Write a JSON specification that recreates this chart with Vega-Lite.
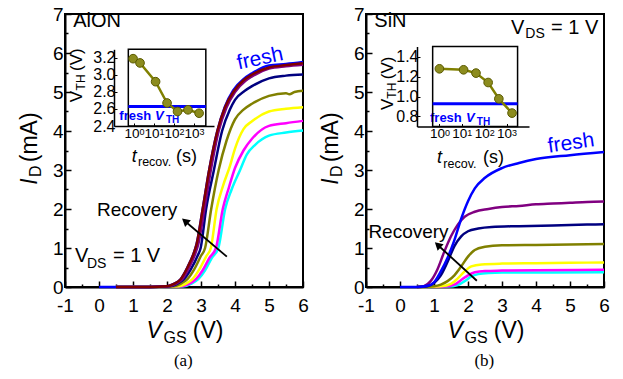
{
"$schema":"https://vega.github.io/schema/vega-lite/v6.json",
"background":"white",
"padding":{"left":19,"top":5,"right":0,"bottom":0},
"spacing":63,
"bounds":"flush",
"datasets":{
"curvesA":[
{"curve":"cyan","vgs":0.5,"id":0},{"curve":"cyan","vgs":1.5,"id":0},{"curve":"cyan","vgs":2.5,"id":0.02},{"curve":"cyan","vgs":2.7,"id":0.08},{"curve":"cyan","vgs":2.92,"id":0.2},{"curve":"cyan","vgs":3.12,"id":0.43},{"curve":"cyan","vgs":3.32,"id":0.75},{"curve":"cyan","vgs":3.51,"id":1.0},{"curve":"cyan","vgs":3.71,"id":2.0},{"curve":"cyan","vgs":3.9,"id":2.5},{"curve":"cyan","vgs":4.15,"id":3.0},{"curve":"cyan","vgs":4.35,"id":3.4},{"curve":"cyan","vgs":4.6,"id":3.65},{"curve":"cyan","vgs":5.0,"id":3.88},{"curve":"cyan","vgs":5.5,"id":3.96},{"curve":"cyan","vgs":6.0,"id":4.01},
{"curve":"magenta","vgs":0.5,"id":0},{"curve":"magenta","vgs":1.5,"id":0},{"curve":"magenta","vgs":2.45,"id":0.02},{"curve":"magenta","vgs":2.65,"id":0.08},{"curve":"magenta","vgs":2.85,"id":0.2},{"curve":"magenta","vgs":3.05,"id":0.43},{"curve":"magenta","vgs":3.25,"id":0.75},{"curve":"magenta","vgs":3.44,"id":1.0},{"curve":"magenta","vgs":3.64,"id":2.0},{"curve":"magenta","vgs":3.82,"id":2.55},{"curve":"magenta","vgs":4.0,"id":3.05},{"curve":"magenta","vgs":4.25,"id":3.5},{"curve":"magenta","vgs":4.5,"id":3.8},{"curve":"magenta","vgs":5.0,"id":4.13},{"curve":"magenta","vgs":5.5,"id":4.2},{"curve":"magenta","vgs":6.0,"id":4.26},
{"curve":"yellow","vgs":0.5,"id":0},{"curve":"yellow","vgs":1.5,"id":0},{"curve":"yellow","vgs":2.35,"id":0.02},{"curve":"yellow","vgs":2.55,"id":0.08},{"curve":"yellow","vgs":2.75,"id":0.2},{"curve":"yellow","vgs":2.95,"id":0.45},{"curve":"yellow","vgs":3.15,"id":0.78},{"curve":"yellow","vgs":3.29,"id":1.0},{"curve":"yellow","vgs":3.46,"id":2.0},{"curve":"yellow","vgs":3.65,"id":2.6},{"curve":"yellow","vgs":3.85,"id":3.1},{"curve":"yellow","vgs":4.0,"id":3.55},{"curve":"yellow","vgs":4.25,"id":4.05},{"curve":"yellow","vgs":4.5,"id":4.25},{"curve":"yellow","vgs":5.0,"id":4.5},{"curve":"yellow","vgs":5.5,"id":4.57},{"curve":"yellow","vgs":6.0,"id":4.61},
{"curve":"olive","vgs":0.5,"id":0},{"curve":"olive","vgs":1.5,"id":0},{"curve":"olive","vgs":2.2,"id":0.02},{"curve":"olive","vgs":2.4,"id":0.08},{"curve":"olive","vgs":2.6,"id":0.2},{"curve":"olive","vgs":2.8,"id":0.45},{"curve":"olive","vgs":3.0,"id":0.8},{"curve":"olive","vgs":3.12,"id":1.0},{"curve":"olive","vgs":3.3,"id":2.0},{"curve":"olive","vgs":3.52,"id":3.0},{"curve":"olive","vgs":3.75,"id":3.75},{"curve":"olive","vgs":4.0,"id":4.3},{"curve":"olive","vgs":4.25,"id":4.55},{"curve":"olive","vgs":4.5,"id":4.7},{"curve":"olive","vgs":5.0,"id":4.9},{"curve":"olive","vgs":5.5,"id":4.97},{"curve":"olive","vgs":5.6,"id":4.94},{"curve":"olive","vgs":5.75,"id":5.0},{"curve":"olive","vgs":6.0,"id":5.03},
{"curve":"navy","vgs":0.5,"id":0},{"curve":"navy","vgs":1.5,"id":0},{"curve":"navy","vgs":2.1,"id":0.02},{"curve":"navy","vgs":2.3,"id":0.08},{"curve":"navy","vgs":2.5,"id":0.2},{"curve":"navy","vgs":2.7,"id":0.45},{"curve":"navy","vgs":2.9,"id":0.8},{"curve":"navy","vgs":2.99,"id":1.0},{"curve":"navy","vgs":3.15,"id":2.0},{"curve":"navy","vgs":3.38,"id":3.0},{"curve":"navy","vgs":3.62,"id":4.0},{"curve":"navy","vgs":3.85,"id":4.55},{"curve":"navy","vgs":4.0,"id":4.8},{"curve":"navy","vgs":4.29,"id":5.03},{"curve":"navy","vgs":4.5,"id":5.15},{"curve":"navy","vgs":5.0,"id":5.35},{"curve":"navy","vgs":5.5,"id":5.42},{"curve":"navy","vgs":6.0,"id":5.45},
{"curve":"fresh","vgs":0,"id":0},{"curve":"fresh","vgs":1.5,"id":0},{"curve":"fresh","vgs":2.0,"id":0.02},{"curve":"fresh","vgs":2.2,"id":0.08},{"curve":"fresh","vgs":2.4,"id":0.2},{"curve":"fresh","vgs":2.6,"id":0.5},{"curve":"fresh","vgs":2.8,"id":0.9},{"curve":"fresh","vgs":2.87,"id":1.1},{"curve":"fresh","vgs":3.05,"id":2.0},{"curve":"fresh","vgs":3.24,"id":3.0},{"curve":"fresh","vgs":3.48,"id":4.0},{"curve":"fresh","vgs":3.7,"id":4.62},{"curve":"fresh","vgs":3.95,"id":5.05},{"curve":"fresh","vgs":4.25,"id":5.33},{"curve":"fresh","vgs":4.5,"id":5.48},{"curve":"fresh","vgs":5.0,"id":5.68},{"curve":"fresh","vgs":5.5,"id":5.72},{"curve":"fresh","vgs":6.0,"id":5.77},
{"curve":"purple","vgs":0.5,"id":0},{"curve":"purple","vgs":1.5,"id":0},{"curve":"purple","vgs":2.05,"id":0.02},{"curve":"purple","vgs":2.25,"id":0.08},{"curve":"purple","vgs":2.45,"id":0.2},{"curve":"purple","vgs":2.65,"id":0.5},{"curve":"purple","vgs":2.85,"id":0.9},{"curve":"purple","vgs":2.92,"id":1.1},{"curve":"purple","vgs":3.1,"id":2.0},{"curve":"purple","vgs":3.29,"id":3.0},{"curve":"purple","vgs":3.52,"id":4.0},{"curve":"purple","vgs":3.75,"id":4.6},{"curve":"purple","vgs":4.0,"id":5.0},{"curve":"purple","vgs":4.3,"id":5.28},{"curve":"purple","vgs":4.5,"id":5.4},{"curve":"purple","vgs":5.0,"id":5.6},{"curve":"purple","vgs":5.5,"id":5.66},{"curve":"purple","vgs":6.0,"id":5.7},
{"curve":"maroon","vgs":0.5,"id":0},{"curve":"maroon","vgs":1.5,"id":0},{"curve":"maroon","vgs":2.0,"id":0.02},{"curve":"maroon","vgs":2.2,"id":0.08},{"curve":"maroon","vgs":2.4,"id":0.2},{"curve":"maroon","vgs":2.6,"id":0.5},{"curve":"maroon","vgs":2.8,"id":0.9},{"curve":"maroon","vgs":2.87,"id":1.1},{"curve":"maroon","vgs":3.05,"id":2.0},{"curve":"maroon","vgs":3.24,"id":3.0},{"curve":"maroon","vgs":3.48,"id":4.0},{"curve":"maroon","vgs":3.7,"id":4.6},{"curve":"maroon","vgs":3.95,"id":5.0},{"curve":"maroon","vgs":4.25,"id":5.3},{"curve":"maroon","vgs":4.5,"id":5.45},{"curve":"maroon","vgs":5.0,"id":5.63},{"curve":"maroon","vgs":5.5,"id":5.69},{"curve":"maroon","vgs":6.0,"id":5.74}
],
"curvesB":[
{"curve":"cyan","vgs":0.5,"id":0},{"curve":"cyan","vgs":1.4,"id":0.01},{"curve":"cyan","vgs":1.7,"id":0.05},{"curve":"cyan","vgs":1.9,"id":0.15},{"curve":"cyan","vgs":2.1,"id":0.27},{"curve":"cyan","vgs":2.3,"id":0.33},{"curve":"cyan","vgs":2.6,"id":0.36},{"curve":"cyan","vgs":3.0,"id":0.37},{"curve":"cyan","vgs":4.0,"id":0.37},{"curve":"cyan","vgs":6.0,"id":0.38},
{"curve":"magenta","vgs":0.5,"id":0},{"curve":"magenta","vgs":1.3,"id":0.01},{"curve":"magenta","vgs":1.6,"id":0.06},{"curve":"magenta","vgs":1.8,"id":0.18},{"curve":"magenta","vgs":2.0,"id":0.3},{"curve":"magenta","vgs":2.2,"id":0.38},{"curve":"magenta","vgs":2.5,"id":0.41},{"curve":"magenta","vgs":3.0,"id":0.42},{"curve":"magenta","vgs":4.0,"id":0.43},{"curve":"magenta","vgs":6.0,"id":0.44},
{"curve":"yellow","vgs":0.5,"id":0},{"curve":"yellow","vgs":1.2,"id":0.02},{"curve":"yellow","vgs":1.5,"id":0.08},{"curve":"yellow","vgs":1.7,"id":0.22},{"curve":"yellow","vgs":1.9,"id":0.4},{"curve":"yellow","vgs":2.1,"id":0.53},{"curve":"yellow","vgs":2.4,"id":0.58},{"curve":"yellow","vgs":3.0,"id":0.6},{"curve":"yellow","vgs":4.0,"id":0.61},{"curve":"yellow","vgs":5.0,"id":0.62},{"curve":"yellow","vgs":6.0,"id":0.63},
{"curve":"olive","vgs":0.5,"id":0},{"curve":"olive","vgs":1.0,"id":0.02},{"curve":"olive","vgs":1.2,"id":0.06},{"curve":"olive","vgs":1.4,"id":0.15},{"curve":"olive","vgs":1.6,"id":0.3},{"curve":"olive","vgs":1.8,"id":0.53},{"curve":"olive","vgs":2.0,"id":0.78},{"curve":"olive","vgs":2.2,"id":0.95},{"curve":"olive","vgs":2.5,"id":1.03},{"curve":"olive","vgs":3.0,"id":1.07},{"curve":"olive","vgs":4.0,"id":1.08},{"curve":"olive","vgs":5.0,"id":1.09},{"curve":"olive","vgs":6.0,"id":1.1},
{"curve":"navy","vgs":0.5,"id":0},{"curve":"navy","vgs":0.8,"id":0.02},{"curve":"navy","vgs":1.0,"id":0.1},{"curve":"navy","vgs":1.2,"id":0.3},{"curve":"navy","vgs":1.4,"id":0.65},{"curve":"navy","vgs":1.6,"id":1.05},{"curve":"navy","vgs":1.8,"id":1.3},{"curve":"navy","vgs":2.0,"id":1.43},{"curve":"navy","vgs":2.3,"id":1.5},{"curve":"navy","vgs":2.7,"id":1.54},{"curve":"navy","vgs":3.5,"id":1.56},{"curve":"navy","vgs":4.5,"id":1.58},{"curve":"navy","vgs":5.5,"id":1.6},{"curve":"navy","vgs":6.0,"id":1.61},
{"curve":"purple","vgs":0.5,"id":0},{"curve":"purple","vgs":0.7,"id":0.02},{"curve":"purple","vgs":0.9,"id":0.15},{"curve":"purple","vgs":1.1,"id":0.45},{"curve":"purple","vgs":1.3,"id":0.9},{"curve":"purple","vgs":1.5,"id":1.3},{"curve":"purple","vgs":1.7,"id":1.6},{"curve":"purple","vgs":1.9,"id":1.8},{"curve":"purple","vgs":2.2,"id":1.93},{"curve":"purple","vgs":2.6,"id":2.0},{"curve":"purple","vgs":3.0,"id":2.05},{"curve":"purple","vgs":3.5,"id":2.08},{"curve":"purple","vgs":4.0,"id":2.12},{"curve":"purple","vgs":4.5,"id":2.14},{"curve":"purple","vgs":5.0,"id":2.16},{"curve":"purple","vgs":5.5,"id":2.18},{"curve":"purple","vgs":6.0,"id":2.19},
{"curve":"fresh","vgs":0,"id":0},{"curve":"fresh","vgs":0.5,"id":0},{"curve":"fresh","vgs":0.8,"id":0.03},{"curve":"fresh","vgs":1.0,"id":0.12},{"curve":"fresh","vgs":1.2,"id":0.4},{"curve":"fresh","vgs":1.4,"id":0.75},{"curve":"fresh","vgs":1.6,"id":1.2},{"curve":"fresh","vgs":1.8,"id":1.75},{"curve":"fresh","vgs":2.0,"id":2.2},{"curve":"fresh","vgs":2.2,"id":2.53},{"curve":"fresh","vgs":2.5,"id":2.8},{"curve":"fresh","vgs":3.0,"id":3.05},{"curve":"fresh","vgs":3.5,"id":3.18},{"curve":"fresh","vgs":4.0,"id":3.28},{"curve":"fresh","vgs":5.0,"id":3.38},{"curve":"fresh","vgs":6.0,"id":3.46}
],
"insetA":[{"t":0.9,"vth":3.19},{"t":2.0,"vth":3.14},{"t":12,"vth":2.92},{"t":45,"vth":2.67},{"t":150,"vth":2.57},{"t":500,"vth":2.59},{"t":1800,"vth":2.55}],
"insetB":[{"t":1,"vth":1.277},{"t":12,"vth":1.267},{"t":43,"vth":1.234},{"t":150,"vth":1.14},{"t":450,"vth":0.977},{"t":1750,"vth":0.834}],
"decades":[{"t":1,"sup":"0"},{"t":10,"sup":"1"},{"t":100,"sup":"2"},{"t":1000,"sup":"3"}]
},
"hconcat":[
{
"width":238,"height":273,
"data":{"values":[{}]},
"layer":[
{"mark":{"type":"rect","filled":false,"color":"black","strokeWidth":2},"encoding":{
"x":{"datum":-1,"type":"quantitative","scale":{"domain":[-1,6],"nice":false,"zero":false},"axis":{"orient":"bottom","values":[-1,0,1,2,3,4,5,6],"labelExpr":"'' + datum.value","tickSize":-6,"tickWidth":1.5,"tickColor":"black","domainColor":"black","domainWidth":2,"labelFontSize":19,"labelPadding":15,"labelFlush":false,"labelOverlap":false,"labelBound":false,"title":null}},
"x2":{"datum":6},
"y":{"datum":0,"type":"quantitative","scale":{"domain":[0,7],"nice":false,"zero":false},"axis":{"orient":"left","values":[0,1,2,3,4,5,6,7],"labelExpr":"'' + datum.value","tickSize":-6,"tickWidth":1.5,"tickColor":"black","domainColor":"black","domainWidth":2,"labelFontSize":19,"labelPadding":8,"labelFlush":false,"labelOverlap":false,"labelBound":false,"title":null}},
"y2":{"datum":7}}},
{"mark":{"type":"point","opacity":0},"encoding":{
"x":{"datum":0,"type":"quantitative","scale":{"domain":[-1,6],"nice":false,"zero":false},"axis":{"orient":"bottom","values":[-0.5,0.5,1.5,2.5,3.5,4.5,5.5],"labels":false,"domain":false,"tickSize":-3,"tickWidth":1.5,"tickColor":"black","title":null}},
"y":{"datum":0,"type":"quantitative","scale":{"domain":[0,7],"nice":false,"zero":false},"axis":{"orient":"left","values":[0.5,1.5,2.5,3.5,4.5,5.5,6.5],"labels":false,"domain":false,"tickSize":-3,"tickWidth":1.5,"tickColor":"black","title":null}}}},
{"layer":[
{"data":{"name":"curvesA"},"mark":{"type":"line","strokeWidth":2.5,"interpolate":"monotone"},
"encoding":{
"x":{"field":"vgs","type":"quantitative","scale":{"domain":[-1,6],"nice":false,"zero":false},"axis":null},
"y":{"field":"id","type":"quantitative","scale":{"domain":[0,7],"nice":false,"zero":false},"axis":null},
"color":{"field":"curve","type":"nominal","scale":{"domain":["cyan","magenta","yellow","olive","navy","fresh","purple","maroon"],"range":["#00FFFF","#FF00FF","#FFFF00","#808000","#000080","#0000FF","#800080","#800000"]},"legend":null}}},
{"mark":{"type":"rule","strokeWidth":1.8,"color":"black"},"encoding":{"x":{"datum":3.76,"type":"quantitative","axis":null},"y":{"datum":0.78,"type":"quantitative","axis":null},"x2":{"datum":2.54},"y2":{"datum":1.68}}},
{"mark":{"type":"point","shape":"triangle-up","filled":true,"color":"black","opacity":1,"size":80,"angle":310},"encoding":{"x":{"datum":2.53,"type":"quantitative","axis":null},"y":{"datum":1.69,"type":"quantitative","axis":null}}},
{"mark":{"type":"text","text":"AlON","fontSize":20,"align":"left","baseline":"alphabetic"},"encoding":{"x":{"datum":-0.76,"type":"quantitative","axis":null},"y":{"datum":6.66,"type":"quantitative","axis":null}}},
{"mark":{"type":"text","text":"fresh","fontSize":21,"color":"#0000FF","align":"center","baseline":"middle","angle":348},"encoding":{"x":{"datum":4.74,"type":"quantitative","axis":null},"y":{"datum":5.85,"type":"quantitative","axis":null}}},
{"mark":{"type":"text","text":"Recovery","fontSize":19,"align":"center","baseline":"middle"},"encoding":{"x":{"datum":1.12,"type":"quantitative","axis":null},"y":{"datum":1.97,"type":"quantitative","axis":null}}},
{"mark":{"type":"text","text":"V","fontSize":20,"align":"left","baseline":"alphabetic"},"encoding":{"x":{"datum":-0.706,"type":"quantitative","axis":null},"y":{"datum":0.65,"type":"quantitative","axis":null}}},
{"mark":{"type":"text","text":"DS","fontSize":14,"align":"left","baseline":"alphabetic"},"encoding":{"x":{"datum":-0.353,"type":"quantitative","axis":null},"y":{"datum":0.49,"type":"quantitative","axis":null}}},
{"mark":{"type":"text","text":"= 1 V","fontSize":20,"align":"left","baseline":"alphabetic"},"encoding":{"x":{"datum":0.41,"type":"quantitative","axis":null},"y":{"datum":0.65,"type":"quantitative","axis":null}}},
{"mark":{"type":"text","text":"fresh","fontSize":13,"fontWeight":"bold","color":"#0000FF","align":"left","baseline":"alphabetic"},"encoding":{"x":{"datum":0.597,"type":"quantitative","axis":null},"y":{"datum":4.28,"type":"quantitative","axis":null}}},
{"mark":{"type":"text","text":"V","fontSize":13,"fontWeight":"bold","fontStyle":"italic","color":"#0000FF","align":"left","baseline":"alphabetic"},"encoding":{"x":{"datum":1.65,"type":"quantitative","axis":null},"y":{"datum":4.28,"type":"quantitative","axis":null}}},
{"mark":{"type":"text","text":"TH","fontSize":10,"fontWeight":"bold","color":"#0000FF","align":"left","baseline":"alphabetic"},"encoding":{"x":{"datum":1.97,"type":"quantitative","axis":null},"y":{"datum":4.2,"type":"quantitative","axis":null}}},
{"mark":{"type":"text","text":"V","fontSize":17,"angle":270,"align":"left","baseline":"alphabetic"},"encoding":{"x":{"datum":-0.5,"type":"quantitative","axis":null},"y":{"datum":4.74,"type":"quantitative","axis":null}}},
{"mark":{"type":"text","text":"TH","fontSize":12,"angle":270,"align":"left","baseline":"alphabetic"},"encoding":{"x":{"datum":-0.41,"type":"quantitative","axis":null},"y":{"datum":5.04,"type":"quantitative","axis":null}}},
{"mark":{"type":"text","text":"(V)","fontSize":17,"angle":270,"align":"left","baseline":"alphabetic"},"encoding":{"x":{"datum":-0.5,"type":"quantitative","axis":null},"y":{"datum":5.54,"type":"quantitative","axis":null}}},
{"mark":{"type":"text","text":"t","fontSize":18,"fontStyle":"italic","align":"left","baseline":"alphabetic"},"encoding":{"x":{"datum":0.962,"type":"quantitative","axis":null},"y":{"datum":3.21,"type":"quantitative","axis":null}}},
{"mark":{"type":"text","text":"recov.","fontSize":12.5,"align":"left","baseline":"alphabetic"},"encoding":{"x":{"datum":1.147,"type":"quantitative","axis":null},"y":{"datum":3.1,"type":"quantitative","axis":null}}},
{"mark":{"type":"text","text":"(s)","fontSize":18,"align":"left","baseline":"alphabetic"},"encoding":{"x":{"datum":2.265,"type":"quantitative","axis":null},"y":{"datum":3.21,"type":"quantitative","axis":null}}},
{"mark":{"type":"text","text":"V","fontSize":23,"fontStyle":"italic","align":"left","baseline":"alphabetic"},"encoding":{"x":{"datum":1.4,"type":"quantitative","axis":null},"y":{"datum":-1.315,"type":"quantitative","axis":null}}},
{"mark":{"type":"text","text":"GS","fontSize":16,"align":"left","baseline":"alphabetic"},"encoding":{"x":{"datum":1.897,"type":"quantitative","axis":null},"y":{"datum":-1.44,"type":"quantitative","axis":null}}},
{"mark":{"type":"text","text":"(V)","fontSize":23,"align":"left","baseline":"alphabetic"},"encoding":{"x":{"datum":2.76,"type":"quantitative","axis":null},"y":{"datum":-1.315,"type":"quantitative","axis":null}}},
{"mark":{"type":"text","text":"I","fontSize":23,"fontStyle":"italic","angle":270,"align":"left","baseline":"alphabetic"},"encoding":{"x":{"datum":-1.82,"type":"quantitative","axis":null},"y":{"datum":2.62,"type":"quantitative","axis":null}}},
{"mark":{"type":"text","text":"D","fontSize":16,"angle":270,"align":"left","baseline":"alphabetic"},"encoding":{"x":{"datum":-1.71,"type":"quantitative","axis":null},"y":{"datum":2.82,"type":"quantitative","axis":null}}},
{"mark":{"type":"text","text":"(mA)","fontSize":23,"angle":270,"align":"left","baseline":"alphabetic"},"encoding":{"x":{"datum":-1.82,"type":"quantitative","axis":null},"y":{"datum":3.2,"type":"quantitative","axis":null}}},
{"mark":{"type":"text","text":"(a)","fontSize":17,"font":"Liberation Serif","align":"center","baseline":"alphabetic"},"encoding":{"x":{"datum":2.48,"type":"quantitative","axis":null},"y":{"datum":-2.03,"type":"quantitative","axis":null}}}
]},
{"layer":[
{"mark":{"type":"rect","filled":false,"color":"black","strokeWidth":1.5},"encoding":{
"x":{"datum":0.52,"type":"quantitative","scale":{"type":"log","domain":[0.52,3900],"range":[49,149]},"axis":{"orient":"bottom","offset":-161,"values":[1,10,100,1000],"labelExpr":"'10'","tickSize":-3,"tickColor":"black","domainColor":"black","domainWidth":1.5,"labelFontSize":13.5,"labelOffset":-2.5,"labelPadding":3,"labelFlush":false,"labelOverlap":false,"title":null}},
"x2":{"datum":3900},
"y":{"datum":2.4,"type":"quantitative","scale":{"domain":[2.4,3.3],"range":[112,35.3]},"axis":{"orient":"left","offset":-49,"values":[2.4,2.6,2.8,3.0,3.2],"format":".1f","tickSize":-3,"tickColor":"black","domainColor":"black","domainWidth":1.5,"labelFontSize":16,"labelPadding":2,"labelFlush":false,"labelOverlap":false,"title":null}},
"y2":{"datum":3.3}}},
{"mark":{"type":"rule","color":"#0000FF","strokeWidth":3},"encoding":{"x":{"datum":0.52,"type":"quantitative"},"x2":{"datum":3900},"y":{"datum":2.63,"type":"quantitative"}}},
{"data":{"name":"insetA"},"mark":{"type":"line","color":"#808000","strokeWidth":2.5},"encoding":{"x":{"field":"t","type":"quantitative"},"y":{"field":"vth","type":"quantitative"}}},
{"data":{"name":"insetA"},"mark":{"type":"point","filled":true,"opacity":1,"size":75,"color":"#8c8c1e","stroke":"#5a5a00","strokeWidth":1},"encoding":{"x":{"field":"t","type":"quantitative"},"y":{"field":"vth","type":"quantitative"}}},
{"data":{"name":"decades"},"mark":{"type":"text","fontSize":9,"align":"left","baseline":"alphabetic","dx":5.5,"dy":9},"encoding":{"x":{"field":"t","type":"quantitative"},"y":{"datum":2.4,"type":"quantitative"},"text":{"field":"sup"}}}
]}
],
"resolve":{"scale":{"x":"independent","y":"independent"}}
},
{
"width":238,"height":273,
"data":{"values":[{}]},
"layer":[
{"mark":{"type":"rect","filled":false,"color":"black","strokeWidth":2},"encoding":{
"x":{"datum":-1,"type":"quantitative","scale":{"domain":[-1,6],"nice":false,"zero":false},"axis":{"orient":"bottom","values":[-1,0,1,2,3,4,5,6],"labelExpr":"'' + datum.value","tickSize":-6,"tickWidth":1.5,"tickColor":"black","domainColor":"black","domainWidth":2,"labelFontSize":19,"labelPadding":15,"labelFlush":false,"labelOverlap":false,"labelBound":false,"title":null}},
"x2":{"datum":6},
"y":{"datum":0,"type":"quantitative","scale":{"domain":[0,7],"nice":false,"zero":false},"axis":{"orient":"left","values":[0,1,2,3,4,5,6,7],"labelExpr":"'' + datum.value","tickSize":-6,"tickWidth":1.5,"tickColor":"black","domainColor":"black","domainWidth":2,"labelFontSize":19,"labelPadding":8,"labelFlush":false,"labelOverlap":false,"labelBound":false,"title":null}},
"y2":{"datum":7}}},
{"mark":{"type":"point","opacity":0},"encoding":{
"x":{"datum":0,"type":"quantitative","scale":{"domain":[-1,6],"nice":false,"zero":false},"axis":{"orient":"bottom","values":[-0.5,0.5,1.5,2.5,3.5,4.5,5.5],"labels":false,"domain":false,"tickSize":-3,"tickWidth":1.5,"tickColor":"black","title":null}},
"y":{"datum":0,"type":"quantitative","scale":{"domain":[0,7],"nice":false,"zero":false},"axis":{"orient":"left","values":[0.5,1.5,2.5,3.5,4.5,5.5,6.5],"labels":false,"domain":false,"tickSize":-3,"tickWidth":1.5,"tickColor":"black","title":null}}}},
{"layer":[
{"data":{"name":"curvesB"},"mark":{"type":"line","strokeWidth":2.5,"interpolate":"monotone"},
"encoding":{
"x":{"field":"vgs","type":"quantitative","scale":{"domain":[-1,6],"nice":false,"zero":false},"axis":null},
"y":{"field":"id","type":"quantitative","scale":{"domain":[0,7],"nice":false,"zero":false},"axis":null},
"color":{"field":"curve","type":"nominal","scale":{"domain":["cyan","magenta","yellow","olive","navy","purple","fresh"],"range":["#00FFFF","#FF00FF","#FFFF00","#808000","#000080","#800080","#0000FF"]},"legend":null}}},
{"mark":{"type":"rule","strokeWidth":1.8,"color":"black"},"encoding":{"x":{"datum":2.26,"type":"quantitative","axis":null},"y":{"datum":0.16,"type":"quantitative","axis":null},"x2":{"datum":1.12},"y2":{"datum":1.07}}},
{"mark":{"type":"point","shape":"triangle-up","filled":true,"color":"black","opacity":1,"size":80,"angle":312},"encoding":{"x":{"datum":1.11,"type":"quantitative","axis":null},"y":{"datum":1.08,"type":"quantitative","axis":null}}},
{"mark":{"type":"text","text":"SiN","fontSize":20,"align":"left","baseline":"alphabetic"},"encoding":{"x":{"datum":-0.756,"type":"quantitative","axis":null},"y":{"datum":6.66,"type":"quantitative","axis":null}}},
{"mark":{"type":"text","text":"V","fontSize":20,"align":"left","baseline":"alphabetic"},"encoding":{"x":{"datum":3.265,"type":"quantitative","axis":null},"y":{"datum":6.5,"type":"quantitative","axis":null}}},
{"mark":{"type":"text","text":"DS","fontSize":14,"align":"left","baseline":"alphabetic"},"encoding":{"x":{"datum":3.685,"type":"quantitative","axis":null},"y":{"datum":6.38,"type":"quantitative","axis":null}}},
{"mark":{"type":"text","text":"= 1 V","fontSize":20,"align":"left","baseline":"alphabetic"},"encoding":{"x":{"datum":4.44,"type":"quantitative","axis":null},"y":{"datum":6.5,"type":"quantitative","axis":null}}},
{"mark":{"type":"text","text":"fresh","fontSize":21,"color":"#0000FF","align":"center","baseline":"middle","angle":352},"encoding":{"x":{"datum":5.03,"type":"quantitative","axis":null},"y":{"datum":3.68,"type":"quantitative","axis":null}}},
{"mark":{"type":"text","text":"Recovery","fontSize":19,"align":"center","baseline":"middle"},"encoding":{"x":{"datum":0.25,"type":"quantitative","axis":null},"y":{"datum":1.42,"type":"quantitative","axis":null}}},
{"mark":{"type":"text","text":"fresh","fontSize":13,"fontWeight":"bold","color":"#0000FF","align":"left","baseline":"alphabetic"},"encoding":{"x":{"datum":0.882,"type":"quantitative","axis":null},"y":{"datum":4.24,"type":"quantitative","axis":null}}},
{"mark":{"type":"text","text":"V","fontSize":13,"fontWeight":"bold","fontStyle":"italic","color":"#0000FF","align":"left","baseline":"alphabetic"},"encoding":{"x":{"datum":1.94,"type":"quantitative","axis":null},"y":{"datum":4.24,"type":"quantitative","axis":null}}},
{"mark":{"type":"text","text":"TH","fontSize":10,"fontWeight":"bold","color":"#0000FF","align":"left","baseline":"alphabetic"},"encoding":{"x":{"datum":2.26,"type":"quantitative","axis":null},"y":{"datum":4.16,"type":"quantitative","axis":null}}},
{"mark":{"type":"text","text":"V","fontSize":17,"angle":270,"align":"left","baseline":"alphabetic"},"encoding":{"x":{"datum":-0.2,"type":"quantitative","axis":null},"y":{"datum":4.54,"type":"quantitative","axis":null}}},
{"mark":{"type":"text","text":"TH","fontSize":12,"angle":270,"align":"left","baseline":"alphabetic"},"encoding":{"x":{"datum":-0.11,"type":"quantitative","axis":null},"y":{"datum":4.83,"type":"quantitative","axis":null}}},
{"mark":{"type":"text","text":"(V)","fontSize":17,"angle":270,"align":"left","baseline":"alphabetic"},"encoding":{"x":{"datum":-0.2,"type":"quantitative","axis":null},"y":{"datum":5.33,"type":"quantitative","axis":null}}},
{"mark":{"type":"text","text":"t","fontSize":18,"fontStyle":"italic","align":"left","baseline":"alphabetic"},"encoding":{"x":{"datum":1.088,"type":"quantitative","axis":null},"y":{"datum":3.17,"type":"quantitative","axis":null}}},
{"mark":{"type":"text","text":"recov.","fontSize":12.5,"align":"left","baseline":"alphabetic"},"encoding":{"x":{"datum":1.274,"type":"quantitative","axis":null},"y":{"datum":3.06,"type":"quantitative","axis":null}}},
{"mark":{"type":"text","text":"(s)","fontSize":18,"align":"left","baseline":"alphabetic"},"encoding":{"x":{"datum":2.44,"type":"quantitative","axis":null},"y":{"datum":3.17,"type":"quantitative","axis":null}}},
{"mark":{"type":"text","text":"V","fontSize":23,"fontStyle":"italic","align":"left","baseline":"alphabetic"},"encoding":{"x":{"datum":1.4,"type":"quantitative","axis":null},"y":{"datum":-1.315,"type":"quantitative","axis":null}}},
{"mark":{"type":"text","text":"GS","fontSize":16,"align":"left","baseline":"alphabetic"},"encoding":{"x":{"datum":1.897,"type":"quantitative","axis":null},"y":{"datum":-1.44,"type":"quantitative","axis":null}}},
{"mark":{"type":"text","text":"(V)","fontSize":23,"align":"left","baseline":"alphabetic"},"encoding":{"x":{"datum":2.76,"type":"quantitative","axis":null},"y":{"datum":-1.315,"type":"quantitative","axis":null}}},
{"mark":{"type":"text","text":"I","fontSize":23,"fontStyle":"italic","angle":270,"align":"left","baseline":"alphabetic"},"encoding":{"x":{"datum":-1.82,"type":"quantitative","axis":null},"y":{"datum":2.62,"type":"quantitative","axis":null}}},
{"mark":{"type":"text","text":"D","fontSize":16,"angle":270,"align":"left","baseline":"alphabetic"},"encoding":{"x":{"datum":-1.71,"type":"quantitative","axis":null},"y":{"datum":2.82,"type":"quantitative","axis":null}}},
{"mark":{"type":"text","text":"(mA)","fontSize":23,"angle":270,"align":"left","baseline":"alphabetic"},"encoding":{"x":{"datum":-1.82,"type":"quantitative","axis":null},"y":{"datum":3.2,"type":"quantitative","axis":null}}},
{"mark":{"type":"text","text":"(b)","fontSize":17,"font":"Liberation Serif","align":"center","baseline":"alphabetic"},"encoding":{"x":{"datum":2.48,"type":"quantitative","axis":null},"y":{"datum":-2.03,"type":"quantitative","axis":null}}}
]},
{"layer":[
{"mark":{"type":"rect","filled":false,"color":"black","strokeWidth":1.5},"encoding":{
"x":{"datum":0.5,"type":"quantitative","scale":{"type":"log","domain":[0.5,3090],"range":[51,163]},"axis":{"orient":"bottom","offset":-160.5,"values":[1,10,100,1000],"labelExpr":"'10'","tickSize":-3,"tickColor":"black","domainColor":"black","domainWidth":1.5,"labelFontSize":13.5,"labelOffset":-2.5,"labelPadding":3,"labelFlush":false,"labelOverlap":false,"title":null}},
"x2":{"datum":3090},
"y":{"datum":0.7,"type":"quantitative","scale":{"domain":[0.7,1.5],"range":[112.5,32.5]},"axis":{"orient":"left","offset":-51,"values":[0.8,1.0,1.2,1.4],"format":".1f","tickSize":-3,"tickColor":"black","domainColor":"black","domainWidth":1.5,"labelFontSize":16,"labelPadding":2,"labelFlush":false,"labelOverlap":false,"title":null}},
"y2":{"datum":1.5}}},
{"mark":{"type":"rule","color":"#0000FF","strokeWidth":3},"encoding":{"x":{"datum":0.5,"type":"quantitative"},"x2":{"datum":3090},"y":{"datum":0.927,"type":"quantitative"}}},
{"data":{"name":"insetB"},"mark":{"type":"line","color":"#808000","strokeWidth":2.5},"encoding":{"x":{"field":"t","type":"quantitative"},"y":{"field":"vth","type":"quantitative"}}},
{"data":{"name":"insetB"},"mark":{"type":"point","filled":true,"opacity":1,"size":75,"color":"#8c8c1e","stroke":"#5a5a00","strokeWidth":1},"encoding":{"x":{"field":"t","type":"quantitative"},"y":{"field":"vth","type":"quantitative"}}},
{"data":{"name":"decades"},"mark":{"type":"text","fontSize":9,"align":"left","baseline":"alphabetic","dx":5.5,"dy":9},"encoding":{"x":{"field":"t","type":"quantitative"},"y":{"datum":0.7,"type":"quantitative"},"text":{"field":"sup"}}}
]}
],
"resolve":{"scale":{"x":"independent","y":"independent"}}
}
],
"config":{"view":{"stroke":null},"font":"Liberation Sans","text":{"font":"Liberation Sans","color":"black"},"axis":{"grid":false,"labelFont":"Liberation Sans","labelColor":"black","labelOverlap":false}}
}
